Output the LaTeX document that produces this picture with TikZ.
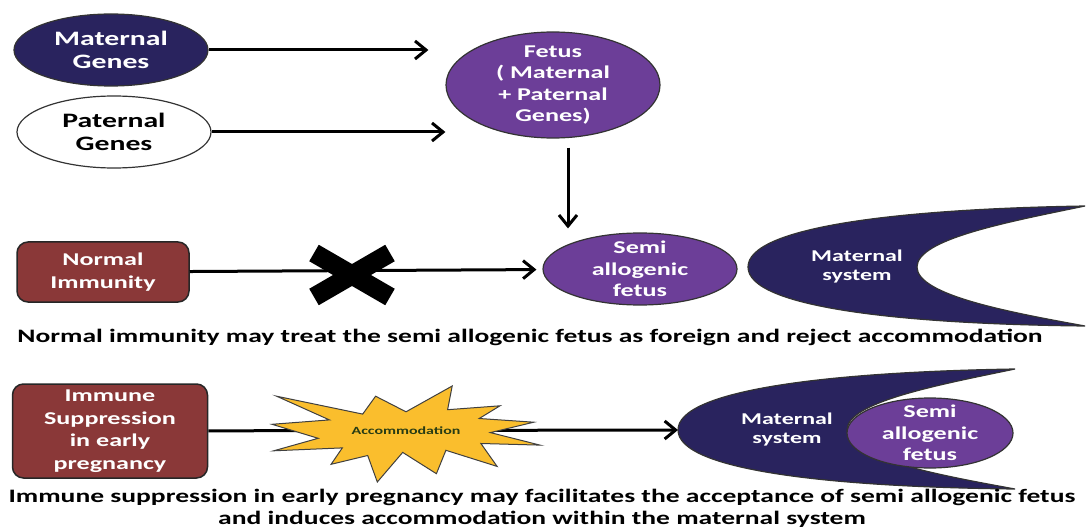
\documentclass[tikz,border=0pt]{standalone}
\usepackage{fontspec}
\setmainfont{Carlito}[FakeStretch=1.45]
\usetikzlibrary{shapes.geometric,shapes.misc,arrows.meta,backgrounds,positioning}
\definecolor{matnavy}{RGB}{41,35,94}
\definecolor{fetuspurple}{RGB}{108,62,152}
\definecolor{immred}{RGB}{138,56,56}
\definecolor{burstyellow}{RGB}{250,190,45}
\definecolor{accomgreen}{RGB}{40,60,20}

\begin{document}
\begin{tikzpicture}[
		x=1pt, y=-1pt,
		gene/.style={
			ellipse, draw=black!80, line width=1.2pt,
			minimum width=194pt, minimum height=72pt, inner sep=0pt,
			align=center, font=\fontsize{20.5}{23}\selectfont\bfseries
		},
		cell/.style={
			ellipse, draw=black!80, line width=1.2pt, fill=fetuspurple,
			text=white, inner sep=-5pt, align=center,
			font=\fontsize{18}{21.5}\selectfont\bfseries
		},
		immbox/.style={
			draw=black!85, line width=1.5pt, rounded corners=11pt, fill=immred,
			text=white, inner sep=3pt, align=center,
			font=\fontsize{18}{22.5}\selectfont\bfseries
		},
		caption/.style={
			align=center, font=\fontsize{19}{22}\selectfont\bfseries
		},
		link/.style={->, line width=3pt},
		crescent/.pic={
			\coordinate (-left) at (0,0);
			\filldraw[fill=matnavy, draw=black!80, line width=1.2pt]
				(0,0) .. controls (0,-40) and (150,-58) .. (337,-61)
				.. controls (260,-45) and (169,-28) .. (169,0)
				.. controls (169,28) and (260,45) .. (337,59)
				.. controls (150,57) and (0,40) .. (0,0) -- cycle;
			\node[text=white, align=center, font=\fontsize{16.5}{19}\selectfont\bfseries]
				(-text) at (109,0) {Maternal\\system};
		},
		>={Straight Barb[length=11pt,width=18pt]}
		]
		\useasboundingbox (0,0) rectangle (1086,529);
		% Genes and fetus
		\node[gene, fill=matnavy, text=white] (matgenes) at (111,50) {Maternal\\Genes};
		\node[gene, fill=white] (patgenes) at (114,132) {Paternal\\Genes};
		\node[cell, minimum width=214pt, minimum height=106pt] (fetus) at (553,85)
			{Fetus\\( Maternal\\+ Paternal\\Genes)};
		\node[cell, minimum width=194pt, minimum height=72pt] (semiA) at (640,269)
			{Semi\\allogenic\\fetus};
		\pic (cresA) at (748,267) {crescent};
		% Genes -> Fetus
		\foreach \g/\s in {matgenes/17,patgenes/0}
			\draw[link, shorten >=\s pt] (\g) -- (\g -| fetus.west);
		% Fetus -> Semi allogenic fetus
		\draw[link, shorten <=9pt, shorten >=4pt] ([xshift=15pt]fetus.south)
			-- ([xshift=15pt]fetus.south |- semiA.north);
		% Normal immunity
		\node[immbox, minimum width=172pt, minimum height=60pt] (normimm) at (103,272)
			{Normal\\Immunity};
		\draw[link, shorten >=6pt] (normimm) -- (semiA);
		\node[cross out, draw, line width=19pt, outer sep=0pt, inner sep=0pt,
			minimum width=76pt, minimum height=44pt] (block) at (352,275) {};
		\node[caption] (capA) at (530,337)
			{Normal immunity may treat the semi allogenic fetus as foreign and reject accommodation};
		% Immune suppression
		\node[immbox, minimum width=195pt, minimum height=94pt] (immsup) at (110,431)
			{Immune\\Suppression\\in early\\pregnancy};
		\filldraw[fill=burstyellow, draw=black!75, line width=1pt]
			(406,411.8) -- (452.2,386) -- (447.6,409.7) -- (500,405.8) -- (479.2,418.5)
			-- (533.8,422.2) -- (490.4,432.6) -- (540,445.1) -- (480.9,443.5)
			-- (497.1,466.4) -- (445.9,450.3) -- (436.4,473.7) -- (402.7,452.4)
			-- (377.3,482) -- (367.7,455.5) -- (331.1,464.3) -- (342.3,447.9)
			-- (273.7,450.8) -- (318.2,438.3) -- (272,424.3) -- (329.4,419.9)
			-- (276.6,396.2) -- (362.7,414.1) -- (375.6,396.2) -- cycle;
		\node[text=accomgreen, font=\fontsize{11}{12}\selectfont\bfseries] (accom) at (406,431)
			{Accommodation};
		\pic (cresB) at (678,430) {crescent};
		\node[cell, minimum width=166pt, minimum height=70pt] (semiB) at (930,433)
			{Semi\\allogenic\\fetus};
		\begin{scope}[on background layer]
			\draw[link] (immsup) -- (cresB-left);
		\end{scope}
		\node[caption] (capB) at (542,508)
			{Immune suppression in early pregnancy may facilitates the acceptance of semi allogenic fetus\\
			and induces accommodation within the maternal system};
\end{tikzpicture}
\end{document}
